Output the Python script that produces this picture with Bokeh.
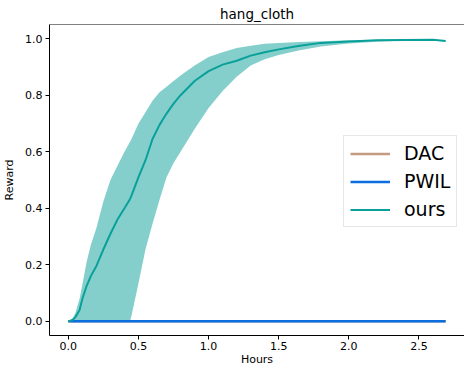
from bokeh.plotting import figure
from bokeh.models import FixedTicker, NumeralTickFormatter, Span, Range1d
from bokeh.embed import file_html
from bokeh.resources import INLINE

# ---- data ----
title_text = "hang_cloth"
x_label = "Hours"
y_label = "Reward"

hours = [0.0, 0.03, 0.05, 0.08, 0.1, 0.13, 0.16, 0.2, 0.25, 0.3, 0.35, 0.4, 0.44, 0.45,
         0.5, 0.55, 0.6, 0.65, 0.7, 0.75, 0.8, 0.9, 1.0, 1.1, 1.2, 1.3, 1.4, 1.5,
         1.65, 1.8, 2.0, 2.2, 2.4, 2.6, 2.69]

ours_mean = [0.0, 0.005, 0.015, 0.04, 0.08, 0.125, 0.16, 0.196, 0.255, 0.31, 0.36, 0.40, 0.433, 0.445,
             0.51, 0.57, 0.645, 0.695, 0.735, 0.77, 0.80, 0.85, 0.885, 0.908, 0.922, 0.94, 0.952, 0.962,
             0.975, 0.985, 0.99, 0.994, 0.995, 0.996, 0.992]

ours_upper = [0.0, 0.01, 0.03, 0.08, 0.13, 0.21, 0.27, 0.33, 0.425, 0.50, 0.55, 0.60, 0.635, 0.645,
              0.70, 0.74, 0.78, 0.81, 0.83, 0.85, 0.87, 0.905, 0.935, 0.952, 0.967, 0.975, 0.982, 0.985,
              0.988, 0.991, 0.994, 0.996, 0.997, 0.997, 0.993]

ours_lower = [0.0, 0.0, 0.0, 0.0, 0.0, 0.0, 0.0, 0.0, 0.0, 0.0, 0.0, 0.0, 0.0, 0.02,
              0.135, 0.255, 0.345, 0.43, 0.51, 0.56, 0.60, 0.68, 0.755, 0.815, 0.865, 0.905, 0.927, 0.942,
              0.959, 0.972, 0.983, 0.989, 0.993, 0.994, 0.99]

baseline_hours = [0.0, 2.69]
dac_reward = [0.0, 0.0]
pwil_reward = [0.0, 0.0]

x_ticks = [0.0, 0.5, 1.0, 1.5, 2.0, 2.5]
y_ticks = [0.0, 0.2, 0.4, 0.6, 0.8, 1.0]

FONT = "DejaVu Sans"
C_DAC = "#c49a80"
C_PWIL = "#0a6ee0"
C_OURS = "#0aa09a"

x0, x1 = -0.1345, 2.8245
y0, y1 = -0.05, 1.05

p = figure(width=464, height=368, output_backend="svg", toolbar_location=None,
           x_range=Range1d(x0, x1), y_range=Range1d(y0, y1),
           min_border_right=0, min_border_left=49, min_border_bottom=0, min_border_top=0)

p.title.text = title_text
p.title.align = "center"
p.title.text_font = FONT
p.title.text_font_size = "13.5px"
p.title.text_font_style = "normal"
p.title.text_color = "black"
p.title.offset = 0
p.title.standoff = 6

p.outline_line_color = None
p.xgrid.visible = False
p.ygrid.visible = False
p.background_fill_color = "white"

for ax in (p.xaxis[0], p.yaxis[0]):
    ax.axis_line_color = "black"
    ax.major_tick_line_color = "black"
    ax.major_tick_out = 4
    ax.major_tick_in = 0
    ax.minor_tick_line_color = None
    ax.major_label_text_font = FONT
    ax.major_label_text_font_size = "11px"
    ax.major_label_text_color = "black"
    ax.axis_label_text_font = FONT
    ax.axis_label_text_font_size = "11px"
    ax.axis_label_text_font_style = "normal"
    ax.axis_label_text_color = "black"
    ax.formatter = NumeralTickFormatter(format="0.0")

p.xaxis.ticker = FixedTicker(ticks=x_ticks)
p.yaxis.ticker = FixedTicker(ticks=y_ticks)
p.xaxis.axis_label = x_label
p.yaxis.axis_label = y_label
p.xaxis.axis_label_standoff = 0
p.yaxis.axis_label_standoff = 6
p.xaxis.major_label_standoff = 2
p.yaxis.major_label_standoff = 3

p.add_layout(Span(location=y1, dimension="width", line_color="black", line_width=1))

p.varea(x=hours, y1=ours_lower, y2=ours_upper, fill_color=C_OURS, fill_alpha=0.5)

p.line(baseline_hours, dac_reward, line_color=C_DAC, line_width=2.5, legend_label="DAC")
p.line(baseline_hours, pwil_reward, line_color=C_PWIL, line_width=2.5, legend_label="PWIL")
p.line(hours, ours_mean, line_color=C_OURS, line_width=2, legend_label="ours")

lg = p.legend[0]
lg.location = (294, 108)
lg.label_text_font = FONT
lg.label_text_font_size = "19px"
lg.label_text_color = "black"
lg.glyph_width = 40
lg.glyph_height = 21
lg.label_height = 21
lg.label_standoff = 14
lg.spacing = 6
lg.padding = 6
lg.margin = 0
lg.border_line_color = "#d0d0d0"
lg.border_line_width = 1
lg.background_fill_alpha = 0.8

open("out.html", "w").write(file_html(p, INLINE))
